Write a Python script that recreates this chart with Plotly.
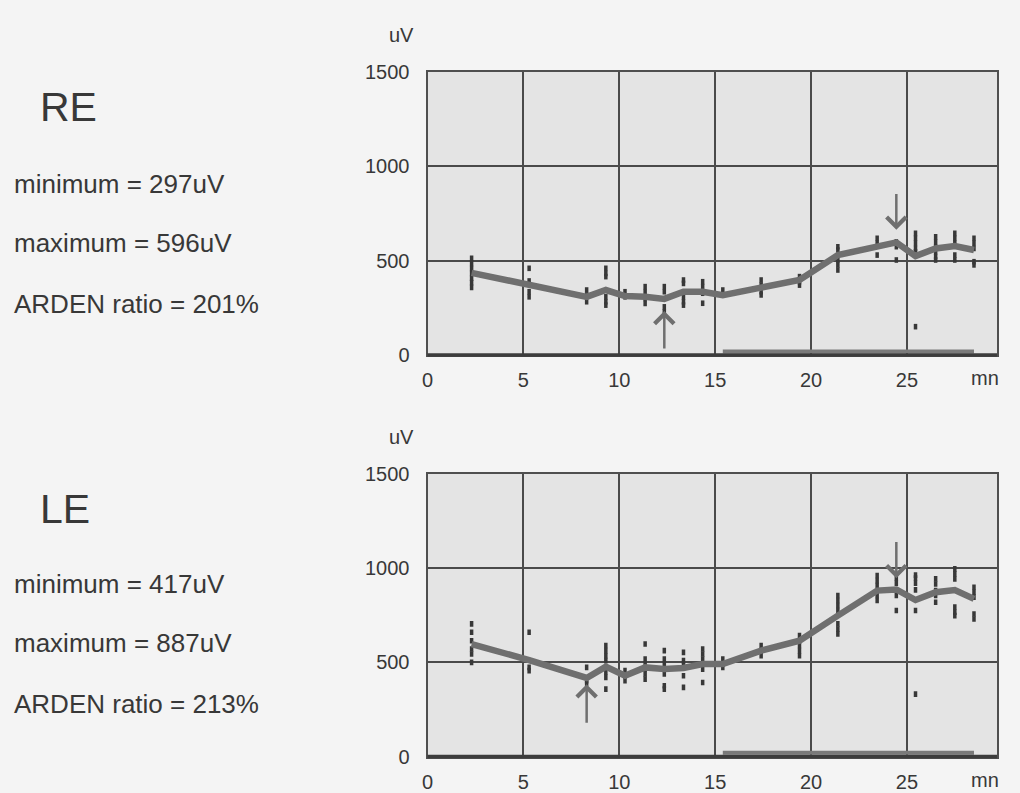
import plotly.graph_objects as go

# ---------------- data ----------------
times = [2.3, 5.3, 8.3, 9.3, 10.3, 11.35, 12.35, 13.35, 14.35, 15.4,
         17.4, 19.4, 21.4, 23.45, 24.45, 25.45, 26.5, 27.5, 28.5]

re_mean = [435, 370, 308, 344, 312, 308, 297, 335, 335, 317,
           353, 397, 529, 573, 596, 524, 564, 577, 556]
le_mean = [597, 512, 417, 477, 429, 473, 464, 470, 491, 491,
           562, 615, 748, 881, 887, 831, 872, 884, 837]

re_dots = [
    [512, 485, 458, 432, 406, 383, 358],
    [459, 392, 374, 335, 308],
    [344, 317, 282],
    [459, 432, 415, 308, 282, 264],
    [335, 308],
    [362, 335, 299, 273],
    [362, 335, 255, 229],
    [397, 379, 308, 282, 264],
    [388, 362, 327, 274],
    [344, 318],
    [397, 370, 335, 318],
    [415, 388, 370],
    [573, 556, 503, 477, 450],
    [618, 591, 529],
    [600, 573, 503],
    [644, 618, 591, 564, 547, 150],
    [626, 600, 573, 547, 521, 503],
    [644, 618, 591, 529, 503],
    [618, 591, 564, 494, 477],
]
le_dots = [
    [704, 660, 615, 571, 544, 500],
    [660, 473, 456],
    [473, 402, 388],
    [589, 562, 535, 509, 447, 420, 358],
    [456, 429, 402],
    [597, 518, 491, 464, 438, 411],
    [562, 518, 491, 438, 376, 358],
    [553, 509, 482, 429, 367],
    [571, 544, 518, 491, 464, 393],
    [518, 491, 473],
    [589, 562, 535],
    [642, 615, 589, 562, 535],
    [855, 828, 802, 775, 704, 677, 651],
    [961, 934, 908, 855, 828],
    [947, 920, 855, 775],
    [963, 947, 920, 885, 775, 331],
    [943, 916, 881, 855, 819],
    [996, 970, 943, 793, 766, 748],
    [899, 872, 846, 757, 730],
]

light_period = [15.4, 28.5]
light_level = [18, 20]

# arrows: (time, tail value, tip value)
re_arrows = [(12.35, 27, 233), (24.45, 860, 663)]
le_arrows = [(8.3, 171, 384), (24.45, 1147, 947)]

x_ticks = [0, 5, 10, 15, 20, 25]
y_ticks = [0, 500, 1000, 1500]

panels = [
    dict(name="RE", mean=re_mean, dots=re_dots, arrows=re_arrows,
         minimum="297uV", maximum="596uV", ratio="201%"),
    dict(name="LE", mean=le_mean, dots=le_dots, arrows=le_arrows,
         minimum="417uV", maximum="887uV", ratio="213%"),
]

# ---------------- styling ----------------
FONT = "Liberation Sans, Arial, sans-serif"
LINE_GRAY = "#6f6f6f"
DOT_COL = "#383838"
GRID_COL = "#4a4a4a"
TEXT_COL = "#383838"

W, H = 1020, 793
x_dom = [427.5 / W, 997 / W]
y_doms = [[(H - 355) / H, (H - 71.7) / H], [(H - 756.5) / H, (H - 474) / H]]
text_rows = [[107, 184, 243, 304], [509, 584, 643, 704]]

fig = go.Figure()
annotations = []
shapes = []

for i, p in enumerate(panels):
    xa = "x" if i == 0 else "x2"
    ya = "y" if i == 0 else "y2"
    # individual measurements
    dx, dy = [], []
    for t, vals in zip(times, p["dots"]):
        for v in vals:
            dx.append(t)
            dy.append(v)
    fig.add_trace(go.Scatter(x=dx, y=dy, mode="markers", xaxis=xa, yaxis=ya,
                             marker=dict(symbol="line-ns-open", size=4, color=DOT_COL,
                                         line=dict(color=DOT_COL, width=3.5)),
                             showlegend=False, hoverinfo="skip"))
    # mean curve
    fig.add_trace(go.Scatter(x=times, y=p["mean"], mode="lines", xaxis=xa, yaxis=ya,
                             line=dict(color=LINE_GRAY, width=6.5),
                             showlegend=False))
    # light period bar
    fig.add_trace(go.Scatter(x=light_period, y=[light_level[i]] * 2, mode="lines",
                             xaxis=xa, yaxis=ya,
                             line=dict(color="#7a7a7a", width=4),
                             showlegend=False, hoverinfo="skip"))
    # heavier baseline along the bottom of the frame
    shapes.append(dict(type="line", xref=xa + " domain", yref=ya + " domain",
                       x0=0, x1=1, y0=0, y1=0, line=dict(color="#3c3c3c", width=3.5)))
    for (t, tail, tip) in p["arrows"]:
        annotations.append(dict(x=t, y=tip, ax=t, ay=tail, xref=xa, yref=ya,
                                axref=xa, ayref=ya, text="", showarrow=True,
                                arrowhead=4, arrowsize=1.5, arrowwidth=2.5,
                                arrowcolor=LINE_GRAY))
    rows = text_rows[i]
    annotations.append(dict(x=38 / W, y=(H - rows[0]) / H, xref="paper", yref="paper",
                            xanchor="left", yanchor="middle", showarrow=False,
                            text=p["name"], font=dict(size=41, color=TEXT_COL, family=FONT)))
    for label, val, yy in [("minimum = ", p["minimum"], rows[1]),
                           ("maximum = ", p["maximum"], rows[2]),
                           ("ARDEN ratio = ", p["ratio"], rows[3])]:
        annotations.append(dict(x=12 / W, y=(H - yy) / H, xref="paper", yref="paper",
                                xanchor="left", yanchor="middle", showarrow=False,
                                text=label + val,
                                font=dict(size=26, color=TEXT_COL, family=FONT)))
    # axis unit labels
    top_px = 71.7 if i == 0 else 474
    bot_px = 355 if i == 0 else 756.5
    annotations.append(dict(x=401 / W, y=(H - (top_px - 37)) / H, xref="paper", yref="paper",
                            xanchor="center", yanchor="middle", showarrow=False,
                            text="uV", font=dict(size=20, color=TEXT_COL, family=FONT)))
    annotations.append(dict(x=985 / W, y=(H - (bot_px + 23)) / H, xref="paper", yref="paper",
                            xanchor="center", yanchor="middle", showarrow=False,
                            text="mn", font=dict(size=20, color=TEXT_COL, family=FONT)))

axis_common = dict(showgrid=True, gridcolor=GRID_COL, gridwidth=1.5, zeroline=False,
                   showline=True, linecolor="#4f4f4f", linewidth=2, mirror=True,
                   ticks="", tickfont=dict(size=20, color=TEXT_COL, family=FONT),
                   fixedrange=True)

layout = dict(
    width=W, height=H,
    margin=dict(l=0, r=0, t=0, b=0),
    paper_bgcolor="#f4f4f4",
    plot_bgcolor="#e4e4e4",
    showlegend=False,
    annotations=annotations,
    shapes=shapes,
)
for i in range(2):
    sx = "" if i == 0 else "2"
    layout["xaxis" + sx] = dict(axis_common, domain=x_dom, range=[0, 29.7],
                                tickvals=x_ticks, anchor="y" + sx,
                                ticklabelstandoff=6, automargin=False)
    layout["yaxis" + sx] = dict(axis_common, domain=y_doms[i], range=[0, 1500],
                                tickvals=y_ticks, anchor="x" + sx,
                                ticklabelstandoff=12, automargin=False)

fig.update_layout(**layout)
fig.write_html("out.html", config={"displayModeBar": False},
               post_script="document.body.style.margin='0';document.body.style.overflow='hidden';")
